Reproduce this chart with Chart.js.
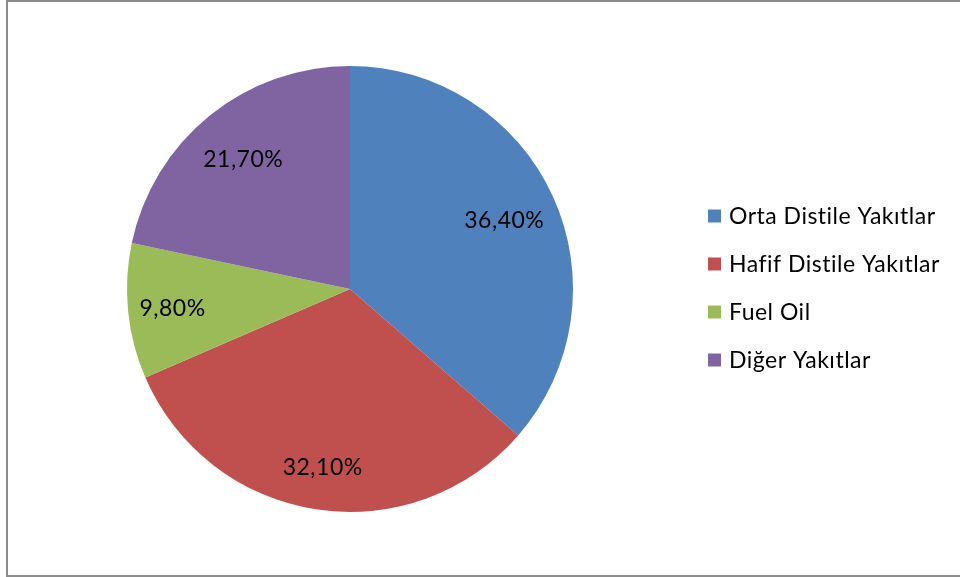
<!DOCTYPE html>
<html>
<head>
<meta charset="utf-8">
<script src="https://cdn.jsdelivr.net/npm/chart.js@4/dist/chart.umd.min.js"></script>
<style>
  html, body { margin: 0; padding: 0; background: #fff; }
  #wrap { position: relative; width: 960px; height: 577px; overflow: hidden; }
  #frame {
    position: absolute; left: 6px; top: 0; width: 1000px; height: 577px;
    box-sizing: border-box; border: 2px solid #8c8c8c; border-right: none;
    pointer-events: none;
  }
  canvas { position: absolute; left: 0; top: 0; }
</style>
</head>
<body>
<div id="wrap">
  <canvas id="c" width="960" height="577"></canvas>
  <div id="frame"></div>
</div>
<script>
// Fuel type shares (percent)
const categories = ['Orta Distile Yakıtlar', 'Hafif Distile Yakıtlar', 'Fuel Oil', 'Diğer Yakıtlar'];
const shares = [36.4, 32.1, 9.8, 21.7];
const sliceColors = ['#4F81BD', '#C0504D', '#9BBB59', '#8064A2'];

const FONT = 'Lato, "Open Sans", sans-serif';

function setFont(ctx, px) {
  ctx.font = px + 'px ' + FONT;
  // a little spacing keeps the glyphs from merging into ligatures
  if ('letterSpacing' in ctx) ctx.letterSpacing = '0.5px';
}

// Percent labels drawn inside each slice, Turkish decimal comma
const sliceLabels = {
  id: 'sliceLabels',
  afterDatasetsDraw(chart) {
    const ctx = chart.ctx;
    const meta = chart.getDatasetMeta(0);
    const radial = [0.76, 0.80, 0.80, 0.76];
    ctx.save();
    setFont(ctx, 23);
    ctx.fillStyle = '#000';
    ctx.textAlign = 'center';
    ctx.textBaseline = 'middle';
    meta.data.forEach((arc, i) => {
      const p = arc.getProps(['x', 'y', 'startAngle', 'endAngle', 'outerRadius'], true);
      const mid = (p.startAngle + p.endAngle) / 2;
      const r = p.outerRadius * radial[i];
      const txt = shares[i].toFixed(2).replace('.', ',') + '%';
      ctx.fillText(txt, p.x + Math.cos(mid) * r, p.y + Math.sin(mid) * r + 2);
    });
    ctx.restore();
  }
};

// Legend at the right, one row per category
const sideLegend = {
  id: 'sideLegend',
  afterDraw(chart) {
    const ctx = chart.ctx;
    const x0 = 708, y0 = 216, step = 48, box = 13;
    ctx.save();
    setFont(ctx, 23);
    ctx.textBaseline = 'middle';
    ctx.textAlign = 'left';
    categories.forEach((name, i) => {
      const y = y0 + i * step;
      ctx.fillStyle = sliceColors[i];
      ctx.fillRect(x0, y - box / 2, box, box);
      ctx.fillStyle = '#000';
      ctx.fillText(name, x0 + 21, y + 1);
    });
    ctx.restore();
  }
};

new Chart(document.getElementById('c'), {
  type: 'pie',
  data: {
    labels: categories,
    datasets: [{
      data: shares,
      backgroundColor: sliceColors,
      borderWidth: 0
    }]
  },
  options: {
    responsive: false,
    animation: false,
    layout: { padding: { left: 127, right: 387, top: 66, bottom: 65 } },
    plugins: {
      legend: { display: false },
      tooltip: { enabled: false }
    }
  },
  plugins: [sliceLabels, sideLegend]
});
</script>
</body>
</html>
